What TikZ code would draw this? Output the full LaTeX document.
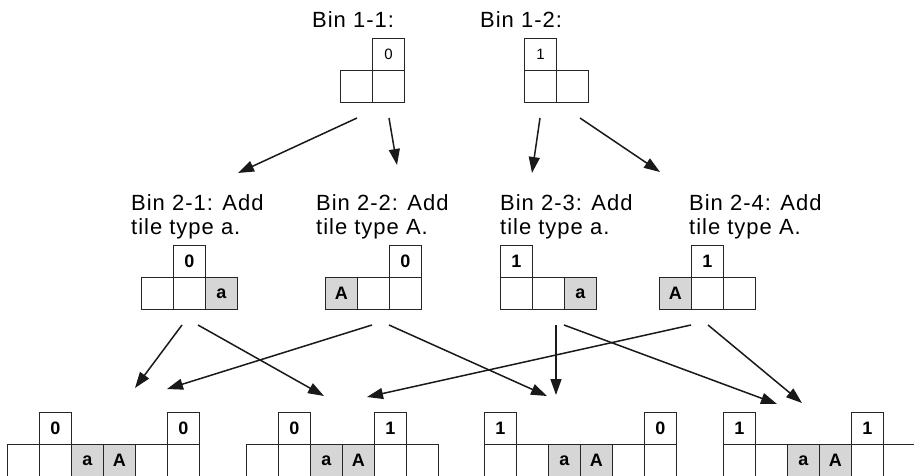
\documentclass[tikz,border=0pt]{standalone}
\usepackage{fontspec}
\setmainfont{Liberation Sans}
\usetikzlibrary{arrows.meta}
\begin{document}
\begin{tikzpicture}[x=1pt,y=-1pt,
  cell/.style={draw=black!85, line width=0.9pt, minimum width=32pt, minimum height=32pt,
    inner sep=0pt, anchor=north west, font=\fontsize{18}{18}\selectfont\bfseries},
  shaded/.style={cell, fill=black!16},
  plain/.style={cell, font=\fontsize{15}{15}\selectfont},
  lbl/.style={anchor=north west, inner sep=0pt, align=left,
    font=\fontsize{22}{24}\selectfont\addfontfeatures{LetterSpace=4.5}},
  toplbl/.style={anchor=base west, inner sep=0pt,
    font=\fontsize{22}{24}\selectfont\addfontfeatures{LetterSpace=4.5}},
  arr/.style={-{Triangle[length=16pt,width=11pt]}, line width=1.5pt, draw=black!90}]
\useasboundingbox (0,0) rectangle (914,476);

% ---------- level 1 ----------
\node[toplbl] (l11) at (312,28) {Bin 1-1:};
\node[toplbl] (l12) at (480,28) {Bin 1-2:};
\node[plain] (c11t) at (372,38) {0};
\node[plain] (c11a) at (340,70) {};
\node[plain] (c11b) at (372,70) {};
\node[plain] (c12t) at (524,38) {1};
\node[plain] (c12a) at (524,70) {};
\node[plain] (c12b) at (556,70) {};

% ---------- level 2 ----------
\node[lbl] (l21) at (131,194) {Bin 2-1: Add\\tile type a.};
\node[lbl] (l22) at (316,194) {Bin 2-2: Add\\tile type A.};
\node[lbl] (l23) at (500,194) {Bin 2-3: Add\\tile type a.};
\node[lbl] (l24) at (689,194) {Bin 2-4: Add\\tile type A.};

\node[cell] (c21t) at (173,245) {0};
\foreach \i/\t/\s in {0//cell,1//cell,2/a/shaded}
  \node[\s] (c21-\i) at ({141+32*\i},277) {\t};
\node[cell] (c22t) at (389,245) {0};
\foreach \i/\t/\s in {0/A/shaded,1//cell,2//cell}
  \node[\s] (c22-\i) at ({325+32*\i},277) {\t};
\node[cell] (c23t) at (500,245) {1};
\foreach \i/\t/\s in {0//cell,1//cell,2/a/shaded}
  \node[\s] (c23-\i) at ({500+32*\i},277) {\t};
\node[cell] (c24t) at (691,245) {1};
\foreach \i/\t/\s in {0/A/shaded,1//cell,2//cell}
  \node[\s] (c24-\i) at ({659+32*\i},277) {\t};

% ---------- level 3 ----------
\node[cell] (c31t1) at (39,412) {0};
\node[cell] (c31t2) at (167,412) {0};
\foreach \i/\t/\s in {0//cell,1//cell,2/a/shaded,3/A/shaded,4//cell,5//cell}
  \node[\s] (c31-\i) at ({7+32*\i},444) {\t};
\node[cell] (c32t1) at (278,412) {0};
\node[cell] (c32t2) at (374,412) {1};
\foreach \i/\t/\s in {0//cell,1//cell,2/a/shaded,3/A/shaded,4//cell,5//cell}
  \node[\s] (c32-\i) at ({246+32*\i},444) {\t};
\node[cell] (c33t1) at (484,412) {1};
\node[cell] (c33t2) at (644,412) {0};
\foreach \i/\t/\s in {0//cell,1//cell,2/a/shaded,3/A/shaded,4//cell,5//cell}
  \node[\s] (c33-\i) at ({484+32*\i},444) {\t};
\node[cell] (c34t1) at (723,412) {1};
\node[cell] (c34t2) at (851,412) {1};
\foreach \i/\t/\s in {0//cell,1//cell,2/a/shaded,3/A/shaded,4//cell,5//cell}
  \node[\s] (c34-\i) at ({723+32*\i},444) {\t};

% ---------- arrow end points ----------
\coordinate (s11a) at (357,118); \coordinate (e21) at (238,173);
\coordinate (s11b) at (389,118); \coordinate (e22) at (397,165);
\coordinate (s12a) at (540,118); \coordinate (e23) at (532,173);
\coordinate (s12b) at (580,118); \coordinate (e24) at (660,172);

\coordinate (s21a) at (182,325); \coordinate (e31a) at (135,388);
\coordinate (s21b) at (198,325); \coordinate (e32a) at (324,396);
\coordinate (s22a) at (372,325); \coordinate (e31b) at (167,389);
\coordinate (s22b) at (389,325); \coordinate (e33a) at (547,396);
\coordinate (s23a) at (556,325); \coordinate (e33b) at (556,395);
\coordinate (s23b) at (564,325); \coordinate (e34a) at (777,404);
\coordinate (s24a) at (691,325); \coordinate (e32b) at (367,397);
\coordinate (s24b) at (708,325); \coordinate (e34b) at (802,403);

\draw[arr] (s11a) -- (e21);
\draw[arr] (s11b) -- (e22);
\draw[arr] (s12a) -- (e23);
\draw[arr] (s12b) -- (e24);
\draw[arr] (s21a) -- (e31a);
\draw[arr] (s21b) -- (e32a);
\draw[arr] (s22a) -- (e31b);
\draw[arr] (s22b) -- (e33a);
\draw[arr] (s23a) -- (e33b);
\draw[arr] (s23b) -- (e34a);
\draw[arr] (s24a) -- (e32b);
\draw[arr] (s24b) -- (e34b);
\end{tikzpicture}
\end{document}
